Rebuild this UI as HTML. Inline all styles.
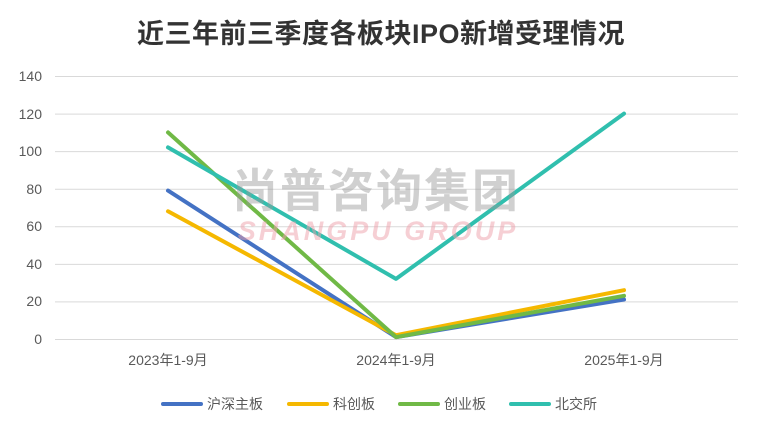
<!DOCTYPE html>
<html><head><meta charset="utf-8"><style>
body{margin:0;background:#fff;}
svg text{font-family:"Liberation Sans","Noto Sans CJK SC",sans-serif;}
</style></head><body>
<svg width="760" height="432" xmlns="http://www.w3.org/2000/svg">
<rect width="760" height="432" fill="#fff"/>
<text x="381" y="43" text-anchor="middle" font-size="27" font-weight="bold" fill="#333" letter-spacing="0.5">近三年前三季度各板块IPO新增受理情况</text>
<g stroke="#d9d9d9" stroke-width="1">
<line x1="55" y1="76.5" x2="738" y2="76.5"/>
<line x1="55" y1="114.1" x2="738" y2="114.1"/>
<line x1="55" y1="151.6" x2="738" y2="151.6"/>
<line x1="55" y1="189.2" x2="738" y2="189.2"/>
<line x1="55" y1="226.8" x2="738" y2="226.8"/>
<line x1="55" y1="264.4" x2="738" y2="264.4"/>
<line x1="55" y1="301.9" x2="738" y2="301.9"/>
<line x1="55" y1="339.5" x2="738" y2="339.5"/>
</g>
<g font-size="14" fill="#595959" text-anchor="end">
<text x="42" y="81">140</text><text x="42" y="119">120</text><text x="42" y="156">100</text>
<text x="42" y="194">80</text><text x="42" y="231">60</text><text x="42" y="269">40</text>
<text x="42" y="306">20</text><text x="42" y="344">0</text>
</g>
<g font-size="14" fill="#595959" text-anchor="middle">
<text x="168" y="365">2023年1-9月</text><text x="396" y="365">2024年1-9月</text><text x="624" y="365">2025年1-9月</text>
</g>
<g fill="none" stroke-width="4" stroke-linecap="round" stroke-linejoin="round">
<polyline points="168,190.6 396,337.1 624,299.5" stroke="#4472c4"/>
<polyline points="168,211.3 396,335.2 624,290.2" stroke="#f5b800"/>
<polyline points="168,132.4 396,337.1 624,295.8" stroke="#70b946"/>
<polyline points="168,147.4 396,278.9 624,113.6" stroke="#30bfae"/>
</g>
<text x="376" y="207" text-anchor="middle" font-size="46" font-weight="bold" fill="#999" opacity="0.45" letter-spacing="2">尚普咨询集团</text>
<text x="378" y="240" text-anchor="middle" font-size="27" font-weight="bold" font-style="italic" fill="#eea0ab" opacity="0.5" letter-spacing="3">SHANGPU GROUP</text>
<g font-size="14" fill="#595959">
<line x1="163" y1="404" x2="201" y2="404" stroke="#4472c4" stroke-width="4" stroke-linecap="round"/><text x="207" y="409">沪深主板</text>
<line x1="289" y1="404" x2="327" y2="404" stroke="#f5b800" stroke-width="4" stroke-linecap="round"/><text x="333" y="409">科创板</text>
<line x1="400" y1="404" x2="438" y2="404" stroke="#70b946" stroke-width="4" stroke-linecap="round"/><text x="444" y="409">创业板</text>
<line x1="511" y1="404" x2="549" y2="404" stroke="#30bfae" stroke-width="4" stroke-linecap="round"/><text x="555" y="409">北交所</text>
</g>
</svg>
</body></html>
